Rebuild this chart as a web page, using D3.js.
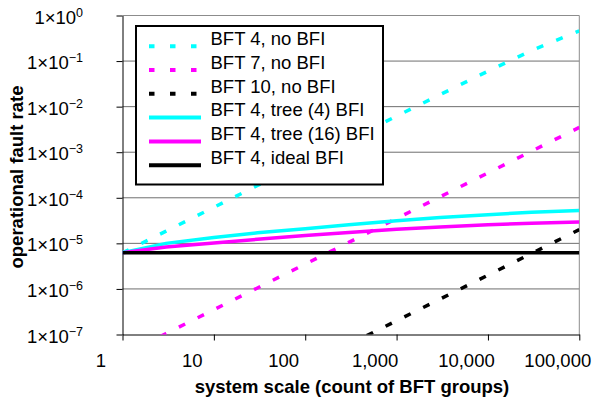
<!DOCTYPE html>
<html>
<head>
<meta charset="utf-8">
<script src="https://d3js.org/d3.v7.min.js"></script>
<style>
body { margin: 0; background: #fff; }
text { font-family: "Liberation Sans", Arial, sans-serif; }
</style>
</head>
<body>
<div id="chart"></div>
<script>
// system scale (count of BFT groups)
var groups = [1, 3, 10, 30, 100, 300, 1000, 3000, 10000, 30000, 100000];

// operational fault rate per series
var bft4NoBfi  = [6.2e-6, 1.86e-5, 6.2e-5, 1.86e-4, 6.2e-4, 1.86e-3, 6.2e-3, 1.84e-2, 6.0e-2, 0.17, 0.46];
var bft7NoBfi  = [3.5e-8, 1.05e-7, 3.5e-7, 1.05e-6, 3.5e-6, 1.05e-5, 3.5e-5, 1.05e-4, 3.5e-4, 1.05e-3, 3.5e-3];
var bft10NoBfi = [2e-10, 6e-10, 2e-9, 6e-9, 2e-8, 6e-8, 2e-7, 6e-7, 2e-6, 6e-6, 2e-5];
var bft4Tree4  = [6.2e-6, 1.0e-5, 1.35e-5, 1.7e-5, 2.1e-5, 2.55e-5, 3.15e-5, 3.7e-5, 4.25e-5, 4.8e-5, 5.25e-5];
var bft4Tree16 = [6.2e-6, 8.3e-6, 1.02e-5, 1.23e-5, 1.48e-5, 1.74e-5, 2.04e-5, 2.29e-5, 2.57e-5, 2.75e-5, 2.95e-5];
var bft4Ideal  = [6.2e-6, 6.2e-6, 6.2e-6, 6.2e-6, 6.2e-6, 6.2e-6, 6.2e-6, 6.2e-6, 6.2e-6, 6.2e-6, 6.2e-6];

var seriesNames = ["BFT 4, no BFI", "BFT 7, no BFI", "BFT 10, no BFI",
                   "BFT 4, tree (4) BFI", "BFT 4, tree (16) BFI", "BFT 4, ideal BFI"];
var seriesValues = [bft4NoBfi, bft7NoBfi, bft10NoBfi, bft4Tree4, bft4Tree16, bft4Ideal];
var seriesColors = ["#00ffff", "#ff00ff", "#000000", "#00ffff", "#ff00ff", "#000000"];
var seriesDashed = [true, true, true, false, false, false];

var xTicks = [1, 10, 100, 1000, 10000, 100000];
var yTicks = [1, 1e-1, 1e-2, 1e-3, 1e-4, 1e-5, 1e-6, 1e-7];

var margin = {top: 15.5, right: 15.7, bottom: 71.5, left: 122.5},
    width = 595 - margin.left - margin.right,
    height = 406 - margin.top - margin.bottom;

var fontSize = 18.5;

var svg = d3.select("#chart").append("svg")
    .attr("width", 595)
    .attr("height", 406);

var g = svg.append("g")
    .attr("transform", "translate(" + margin.left + "," + margin.top + ")");

var x = d3.scaleLog().domain([1, 100000]).range([0, width]);
var y = d3.scaleLog().domain([1e-7, 1]).range([height, 0]);

// gridlines
g.selectAll("line.grid")
    .data(yTicks.slice(1, 7))
    .enter().append("line")
    .attr("class", "grid")
    .attr("x1", 0).attr("x2", width)
    .attr("y1", function(d) { return y(d); })
    .attr("y2", function(d) { return y(d); })
    .attr("stroke", "#6e6e6e")
    .attr("stroke-width", 1);

// plot area border (top and right)
g.append("path")
    .attr("d", "M0," + y(1) + "H" + width + "V" + height)
    .attr("fill", "none")
    .attr("stroke", "#8c8c8c")
    .attr("stroke-width", 1);

// x axis
var xAxis = g.append("g")
    .attr("transform", "translate(0," + height + ")")
    .call(d3.axisBottom(x).tickValues(xTicks).tickSize(6).tickSizeOuter(0)
        .tickFormat(d3.format(",")));
xAxis.selectAll("text")
    .attr("dx", -22)
    .attr("y", 32)
    .attr("dy", 0)
    .attr("font-size", fontSize)
    .attr("font-family", "Liberation Sans, Arial, sans-serif")
    .attr("fill", "#000");

// y axis
var yAxis = g.append("g")
    .call(d3.axisLeft(y).tickValues(yTicks).tickSize(6).tickSizeOuter(0));
yAxis.selectAll(".tick text")
    .attr("x", -39.5)
    .attr("y", 7.5)
    .attr("dy", 0)
    .attr("font-size", fontSize)
    .attr("font-family", "Liberation Sans, Arial, sans-serif")
    .attr("fill", "#000")
    .text(null)
    .each(function(d) {
        var t = d3.select(this);
        var e = Math.round(Math.log10(d));
        t.append("tspan").text("1×10");
        t.append("tspan").attr("dy", -7).attr("font-size", 12.5)
            .text(e === 0 ? "0" : "\u2212" + Math.abs(e));
    });

// axis titles
svg.append("text")
    .attr("x", 352).attr("y", 393)
    .attr("text-anchor", "middle")
    .attr("font-size", fontSize)
    .attr("font-weight", "bold")
    .text("system scale (count of BFT groups)");

svg.append("text")
    .attr("transform", "translate(23,177) rotate(-90)")
    .attr("text-anchor", "middle")
    .attr("font-size", fontSize)
    .attr("font-weight", "bold")
    .text("operational fault rate");

// series lines
svg.append("clipPath").attr("id", "plotClip")
    .append("rect").attr("width", width).attr("height", height);

var line = d3.line()
    .x(function(d) { return x(d[0]); })
    .y(function(d) { return y(d[1]); });

var plot = g.append("g").attr("clip-path", "url(#plotClip)");
seriesValues.forEach(function(vals, i) {
    plot.append("path")
        .datum(groups.map(function(n, j) { return [n, vals[j]]; }))
        .attr("d", line)
        .attr("fill", "none")
        .attr("stroke", seriesColors[i])
        .attr("stroke-width", 3.5)
        .attr("stroke-dasharray", seriesDashed[i] ? "7,14" : null);
});

// legend
var legend = svg.append("g");
legend.append("rect")
    .attr("x", 136).attr("y", 26)
    .attr("width", 247).attr("height", 158.5)
    .attr("fill", "#fff")
    .attr("stroke", "#000")
    .attr("stroke-width", 2);

seriesNames.forEach(function(name, i) {
    var ly = 46.2 + i * 23.8;
    legend.append("line")
        .attr("x1", 149).attr("x2", 201)
        .attr("y1", ly).attr("y2", ly)
        .attr("stroke", seriesColors[i])
        .attr("stroke-width", 4)
        .attr("stroke-dasharray", seriesDashed[i] ? "5.5,15.5" : null);
    legend.append("text")
        .attr("x", 210.5).attr("y", ly - 1.3)
        .attr("font-size", fontSize)
        .text(name);
});
</script>
</body>
</html>
